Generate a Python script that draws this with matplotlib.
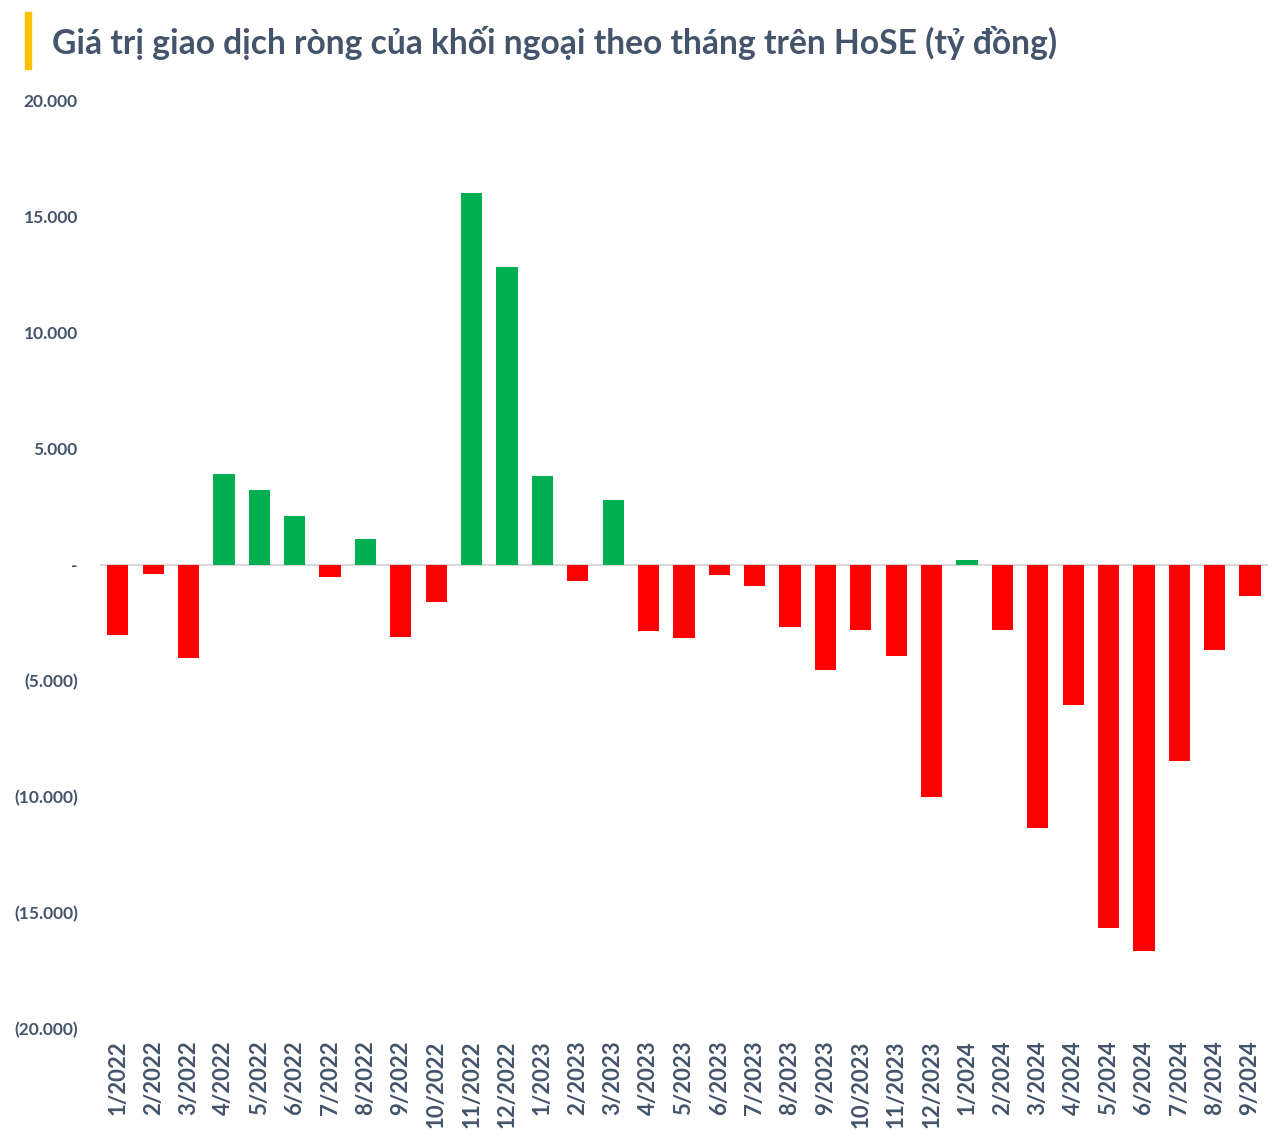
import matplotlib.pyplot as plt
import numpy as np
from matplotlib.patches import Rectangle

plt.rcParams['font.family'] = ['Lato', 'DejaVu Sans']

# tháng
months = ['1/2022', '2/2022', '3/2022', '4/2022', '5/2022', '6/2022', '7/2022', '8/2022',
          '9/2022', '10/2022', '11/2022', '12/2022', '1/2023', '2/2023', '3/2023', '4/2023',
          '5/2023', '6/2023', '7/2023', '8/2023', '9/2023', '10/2023', '11/2023', '12/2023',
          '1/2024', '2/2024', '3/2024', '4/2024', '5/2024', '6/2024', '7/2024', '8/2024', '9/2024']
# giá trị ròng (tỷ đồng)
net_values = [-3020, -390, -4000, 3920, 3230, 2110, -520, 1120,
              -3100, -1600, 16030, 12840, 3840, -690, 2800, -2840,
              -3150, -430, -900, -2670, -4530, -2800, -3920, -10000,
              220, -2800, -11340, -6030, -15650, -16640, -8450, -3660, -1340]
y_ticks = [20000, 15000, 10000, 5000, 0, -5000, -10000, -15000, -20000]
y_labels = ['20.000', '15.000', '10.000', '5.000', '-', '(5.000)', '(10.000)', '(15.000)', '(20.000)']

text_color = '#44546A'

fig = plt.figure(figsize=(12.86, 11.46), dpi=100)
ax = fig.add_axes([0.0778, 0.102, 0.908, 0.810])

x = np.arange(len(months))
colors = ['#00B050' if v > 0 else '#FF0000' for v in net_values]
ax.bar(x, net_values, width=0.6, color=colors, zorder=3)
ax.axhline(0, color='#D9D9D9', lw=1.5, zorder=2)

ax.set_xlim(-0.5, len(months) - 0.5)
ax.set_ylim(-20000, 20000)
ax.set_yticks(y_ticks)
ax.set_yticklabels(y_labels, fontsize=12.5, fontweight='bold', color=text_color)
ax.set_xticks(x)
ax.set_xticklabels(months, rotation=90, fontsize=16, fontweight='bold', color=text_color)
ax.tick_params(axis='both', length=0)
ax.tick_params(axis='y', pad=16)
ax.tick_params(axis='x', pad=8)
for s in ax.spines.values():
    s.set_visible(False)

# tiêu đề
fig.patches.append(Rectangle((25 / 1286, 1 - 69 / 1146), 6 / 1286, 57 / 1146,
                             transform=fig.transFigure, color='#FFC000'))
fig.text(52 / 1286, 1 - 43 / 1146, 'Giá trị giao dịch ròng của khối ngoại theo tháng trên HoSE (tỷ đồng)',
         fontsize=24.2, fontweight='bold', color=text_color, va='center', ha='left')

fig.savefig('out.png', dpi=100)
